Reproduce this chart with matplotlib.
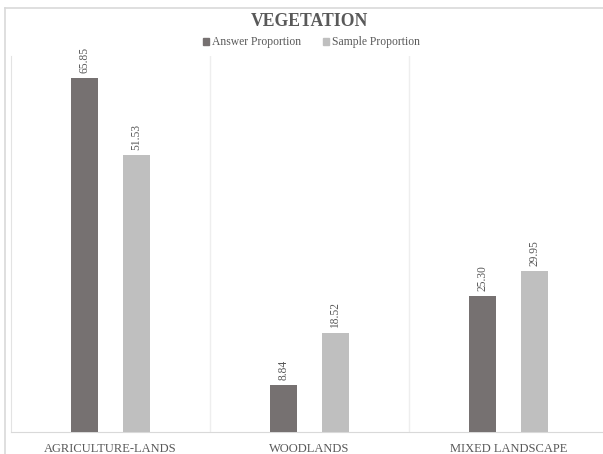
import matplotlib
matplotlib.use("Agg")
import matplotlib.pyplot as plt
from matplotlib.lines import Line2D
from matplotlib.patches import Patch

categories = ["AGRICULTURE-LANDS", "WOODLANDS", "MIXED LANDSCAPE"]
answer_prop = [65.85, 8.84, 25.30]
sample_prop = [51.53, 18.52, 29.95]
series_names = ["Answer Proportion", "Sample Proportion"]

dark = "#767171"
light = "#BFBFBF"
txt = "#595959"
plt.rcParams["font.family"] = ["Liberation Serif", "DejaVu Serif"]

W, H = 603, 454
fig = plt.figure(figsize=(W / 100, H / 100), dpi=100)

# outer chart frame (top and left edges)
fig.add_artist(Line2D([5 / W, 1], [1 - 8 / H, 1 - 8 / H], color="#d9d9d9", lw=1.2))
fig.add_artist(Line2D([5 / W, 5 / W], [0, 1 - 8 / H], color="#d9d9d9", lw=1.2))

left, right, bottom, top = 11, 608, 432, 56
ax = fig.add_axes([left / W, 1 - bottom / H, (right - left) / W, (bottom - top) / H])
ax.set_xlim(-0.5, 2.5)
ax.set_ylim(0, 70)

bw = 0.136
off = 0.13
x = range(len(categories))
b1 = ax.bar([i - off for i in x], answer_prop, bw, color=dark, zorder=3)
b2 = ax.bar([i + off for i in x], sample_prop, bw, color=light, zorder=3)

for bars, vals in ((b1, answer_prop), (b2, sample_prop)):
    for r, v in zip(bars, vals):
        ax.annotate(f"{v:.2f}", (r.get_x() + r.get_width() / 2, v),
                    xytext=(0, 3.5), textcoords="offset points",
                    rotation=90, ha="center", va="bottom",
                    fontsize=8.3, color=txt)

for xb in (0.5, 1.5):
    ax.axvline(xb, color="#eeeeee", lw=1, zorder=1)

for s in ("top", "right"):
    ax.spines[s].set_visible(False)
ax.spines["left"].set_color("#e3e3e3")
ax.spines["bottom"].set_color("#d9d9d9")
ax.set_yticks([])
ax.set_xticks(list(x))
ax.set_xticklabels(categories, fontsize=9, color=txt)
ax.tick_params(axis="x", length=0, pad=8)

fig.text(0.513, 1 - 22 / H, "VEGETATION", ha="center", va="center",
         fontsize=12.7, fontweight="bold", color=txt)
handles = [Patch(color=dark), Patch(color=light)]
fig.legend(handles, series_names, loc="center", bbox_to_anchor=(0.516, 1 - 42.5 / H),
           ncol=2, frameon=False, fontsize=8.4, labelcolor=txt,
           handlelength=0.5, handleheight=0.5, handletextpad=0.25, columnspacing=1.9)

fig.savefig("out.png", dpi=100, facecolor="white")
